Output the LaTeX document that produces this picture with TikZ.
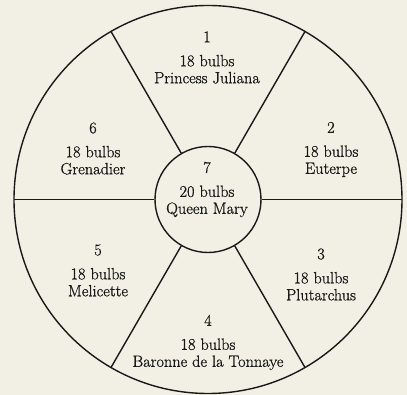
\documentclass[tikz,border=0pt]{standalone}
\usepackage{fontspec}
\newfontfamily\bedfont{Latin Modern Roman}[FakeBold=0.9]
\definecolor{paper}{RGB}{242,240,228}
\definecolor{ink}{RGB}{25,25,25}
\tikzset{
  bed/.style={align=center, text=ink, font=\bedfont\fontsize{16.3}{17}\selectfont, inner sep=0pt},
  rim/.style={draw=ink, line width=1.4pt}
}
\begin{document}
\begin{tikzpicture}[x=1pt, y=1pt]
\fill[paper] (-208,-195.5) rectangle (199,199.5);
\useasboundingbox (-208,-195.5) rectangle (199,199.5);

% outer ring and centre bed
\draw[rim] (0,0) circle (194);
\node[circle, rim, minimum size=106pt, inner sep=0pt] (hub) at (0,0) {};

% spokes
\foreach \a in {0,60,...,300} {
  \draw[rim] (hub.\a) -- (\a:194);
}

% beds
\node[bed] (b1) at (-1,142) {1\\[7pt]18 bulbs\\Princess Juliana};
\node[bed] (b2) at (123,50) {2\\[7pt]18 bulbs\\Euterpe};
\node[bed] (b3) at (113,-75) {3\\[7pt]18 bulbs\\Plutarchus};
\node[bed] (b4) at (0,-143) {4\\[7pt]18 bulbs\\Baronne de la Tonnaye};
\node[bed] (b5) at (-110,-71) {5\\[7pt]18 bulbs\\Melicette};
\node[bed] (b6) at (-115,51) {6\\[7pt]18 bulbs\\Grenadier};
\node[bed] (b7) at (-1,10) {7\\[7pt]20 bulbs\\Queen Mary};
\end{tikzpicture}
\end{document}
